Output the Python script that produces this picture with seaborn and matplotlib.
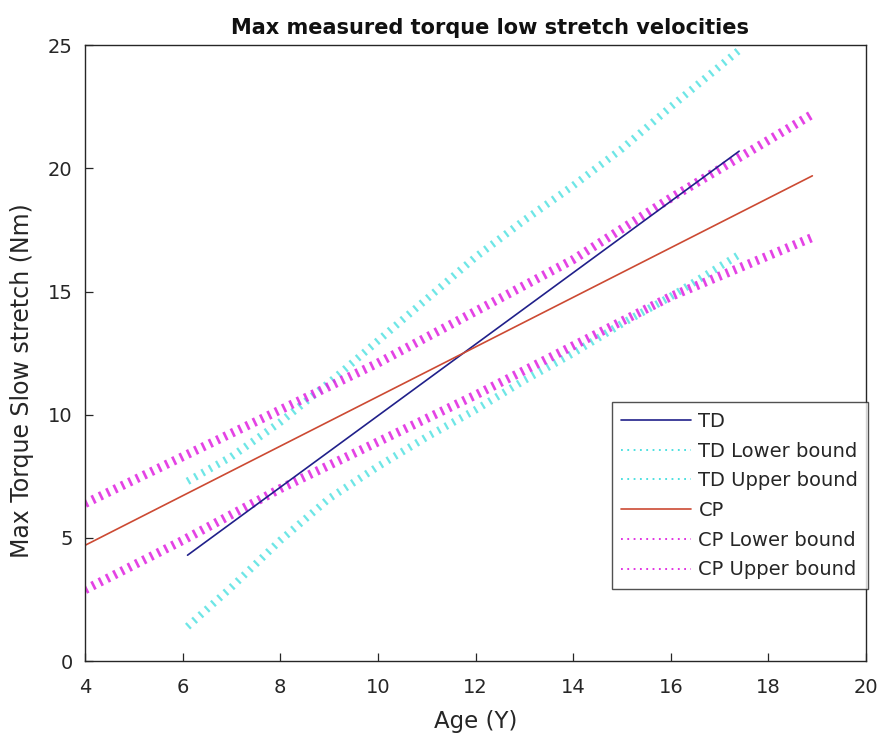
import numpy as np
import pandas as pd
import matplotlib
matplotlib.use("Agg")
import matplotlib.pyplot as plt
import seaborn as sns

# ---- data ----
td_age = [6.1, 17.4]
td_fit = [4.3, 20.7]
td_bound_age = [6.1, 7.0, 8.0, 9.0, 10.0, 11.0, 12.0, 13.0, 14.0, 15.0, 16.0, 17.4]
td_lower = [1.4, 3.0, 4.9, 6.6, 7.9, 9.1, 10.2, 11.4, 12.5, 13.7, 14.8, 16.5]
td_upper = [7.3, 8.3, 9.7, 11.3, 13.0, 14.7, 16.4, 17.9, 19.3, 20.8, 22.5, 24.8]

cp_age = [4.0, 18.9]
cp_fit = [4.7, 19.7]
cp_bound_age = [4.0, 6.0, 8.0, 10.0, 12.0, 14.0, 16.0, 18.9]
cp_lower = [2.9, 4.9, 7.0, 8.9, 10.8, 12.8, 14.8, 17.2]
cp_upper = [6.4, 8.3, 10.2, 12.1, 14.2, 16.3, 18.8, 22.2]

labels = ["TD", "TD Lower bound", "TD Upper bound", "CP", "CP Lower bound", "CP Upper bound"]

sns.set_theme(style="white")
plt.rcParams['font.family'] = ['DejaVu Sans']

fig = plt.figure(figsize=(8.82, 7.42), dpi=100)
ax = fig.add_axes([0.0964, 0.109, 0.8855, 0.830])

navy = "#20208a"
cyan = "#3fdede"
red = "#cc4a33"
mag = "#e022e0"
dot_c = dict(linestyle=(0, (0.3, 0.8)), linewidth=5.5, alpha=0.75)
dot_m = dict(linestyle=(0, (0.3, 0.6)), linewidth=6.5, alpha=0.85)

sns.lineplot(x=td_bound_age, y=td_lower, ax=ax, color=cyan, label=labels[1], **dot_c)
sns.lineplot(x=td_bound_age, y=td_upper, ax=ax, color=cyan, label=labels[2], **dot_c)
sns.lineplot(x=cp_bound_age, y=cp_lower, ax=ax, color=mag, label=labels[4], **dot_m)
sns.lineplot(x=cp_bound_age, y=cp_upper, ax=ax, color=mag, label=labels[5], **dot_m)
sns.lineplot(x=td_age, y=td_fit, ax=ax, color=navy, linewidth=1.2, label=labels[0])
sns.lineplot(x=cp_age, y=cp_fit, ax=ax, color=red, linewidth=1.2, label=labels[3])

ax.set_xlim(4, 20)
ax.set_ylim(0, 25)
ax.set_xticks(range(4, 21, 2))
ax.set_yticks(range(0, 26, 5))
ax.tick_params(axis="both", direction="in", length=5.5, width=0.9, labelsize=14,
               colors="#262626", top=False, right=False, bottom=True, left=True)
ax.tick_params(axis="x", pad=12.5)
ax.tick_params(axis="y", pad=9)
for s in ax.spines.values():
    s.set_color("#262626")
    s.set_linewidth(1.0)
ax.set_xlabel("Age (Y)", fontsize=16.5, color="#262626", va="top")
ax.xaxis.set_label_coords(0.5, -0.0795)
ax.set_ylabel("Max Torque Slow stretch (Nm)", fontsize=17, color="#262626")
ax.yaxis.set_label_coords(-0.065, 0.455)
ax.set_title("Max measured torque low stretch velocities", fontsize=15,
             fontweight="bold", pad=8, color="#111111", x=0.5186)

handles, labs = ax.get_legend_handles_labels()
order = [labs.index(l) for l in labels]
leg = ax.legend([handles[i] for i in order], [labs[i] for i in order],
                loc="upper right", bbox_to_anchor=(1.0026, 0.4205), borderaxespad=0,
                fontsize=14, frameon=True, fancybox=False, edgecolor="#262626",
                handlelength=3.6, labelspacing=0.55, borderpad=0.5, handletextpad=0.36)
leg.get_frame().set_linewidth(1.0)
for h in leg.get_lines():
    if h.get_linestyle() != "-":
        h.set_linewidth(1.3)
        h.set_linestyle((0, (1, 2.5)))
        h.set_alpha(1.0)

fig.savefig("out.png", dpi=100)
